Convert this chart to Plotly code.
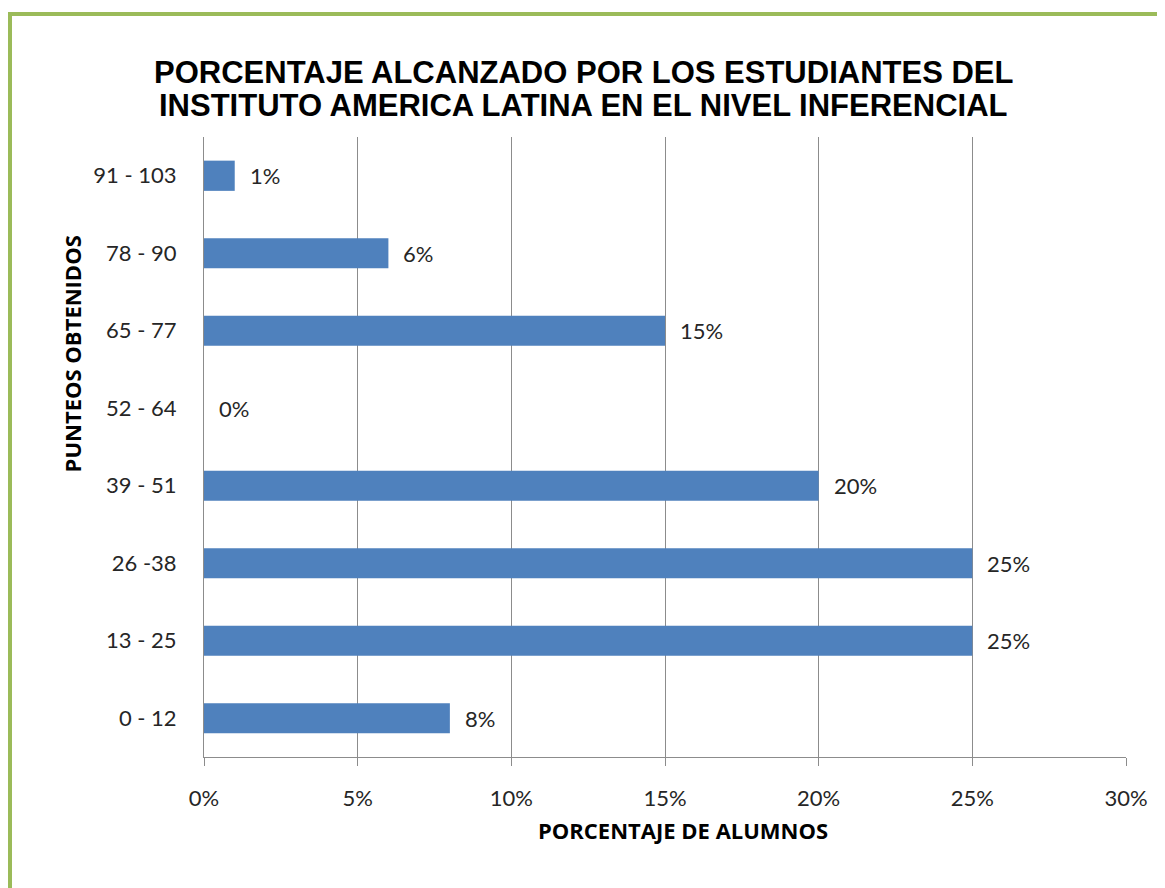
import plotly.graph_objects as go

categories = ["0 - 12", "13 - 25", "26 -38", "39 - 51", "52 - 64", "65 - 77", "78 - 90", "91 - 103"]
values = [8, 25, 25, 20, 0, 15, 6, 1]
value_labels = ["8%", "25%", "25%", "20%", "0%", "15%", "6%", "1%"]
x_ticks = [0, 5, 10, 15, 20, 25, 30]
x_tick_labels = ["0%", "5%", "10%", "15%", "20%", "25%", "30%"]

title_lines = ["PORCENTAJE ALCANZADO POR LOS ESTUDIANTES DEL",
               "INSTITUTO AMERICA LATINA EN EL NIVEL INFERENCIAL"]
x_title = "PORCENTAJE DE ALUMNOS"
y_title = "PUNTEOS OBTENIDOS"

FONT = "Lato, 'Open Sans', sans-serif"
GRID = "#8c8c8c"

fig = go.Figure()
fig.add_trace(go.Bar(
    x=values, y=categories, orientation="h",
    marker=dict(color="#4F81BD", line=dict(width=0)),
    width=0.39, hoverinfo="skip",
))

annotations = []
for v, c, t in zip(values, categories, value_labels):
    annotations.append(dict(x=v, y=c, xref="x", yref="y", text=t, showarrow=False,
                            xanchor="left", yanchor="middle", xshift=13,
                            font=dict(family=FONT, size=22, color="#262626")))

annotations.append(dict(x=0.519, y=-0.118, xref="paper", yref="paper", text="<b>" + x_title + "</b>",
                        showarrow=False, xanchor="center", yanchor="middle",
                        font=dict(family="'Open Sans', sans-serif", size=22, color="#000000")))
annotations.append(dict(x=-0.1435, y=0.6505, xref="paper", yref="paper", text="<b>" + y_title + "</b>",
                        showarrow=False, xanchor="center", yanchor="middle", textangle=-90,
                        font=dict(family="'Open Sans', sans-serif", size=22, color="#000000")))

# title: two lines, centres at y=72 and y=106 px on screen
for line, ypix in zip(title_lines, [72, 106]):
    annotations.append(dict(x=(583 - 204) / 922, y=(757 - ypix) / 620, xref="paper", yref="paper",
                            text="<b>" + line + "</b>", showarrow=False,
                            xanchor="center", yanchor="middle",
                            font=dict(family="'Liberation Sans', Arial, sans-serif", size=31,
                                      color="#000000")))

# page body has an 8px margin; compensate so the plot area sits at x 204-1126, y 137-757
fig.update_layout(
    width=1165, height=888,
    margin=dict(l=196, r=47, t=129, b=139),
    paper_bgcolor="white", plot_bgcolor="white",
    showlegend=False,
    annotations=annotations,
    xaxis=dict(range=[0, 30], tickvals=x_ticks, ticktext=x_tick_labels,
               showgrid=True, gridcolor=GRID, gridwidth=1,
               showline=True, linecolor=GRID, linewidth=1,
               ticks="outside", ticklen=8, tickcolor=GRID,
               ticklabelstandoff=14,
               tickfont=dict(family=FONT, size=22, color="#262626"),
               zeroline=False, fixedrange=True),
    yaxis=dict(range=[-0.5, 7.5], type="category",
               showgrid=False, showline=True, linecolor=GRID, linewidth=1,
               ticks="", ticklabelstandoff=22,
               tickfont=dict(family=FONT, size=22, color="#262626"),
               zeroline=False, fixedrange=True),
    shapes=[
        dict(type="line", xref="paper", yref="paper",
             x0=(10 - 204) / 922, x1=(1200 - 204) / 922,
             y0=(757 - 14) / 620, y1=(757 - 14) / 620,
             line=dict(color="#9BBB59", width=4)),
        dict(type="line", xref="paper", yref="paper",
             x0=(10 - 204) / 922, x1=(10 - 204) / 922,
             y0=(757 - 12) / 620, y1=(757 - 900) / 620,
             line=dict(color="#9BBB59", width=4)),
    ],
)

fig.write_html("out.html")
